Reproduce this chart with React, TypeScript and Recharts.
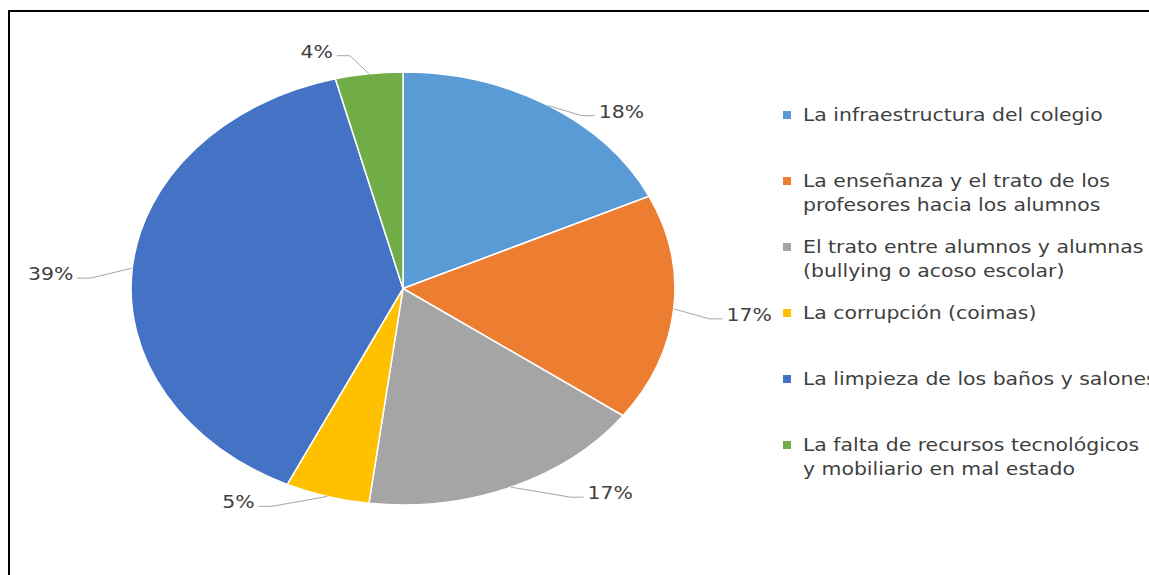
import { Legend, Pie, PieChart } from "recharts"

// survey answers, clockwise from 12 o'clock
const categories = [
  "La infraestructura del colegio",
  "La enseñanza y el trato de los\nprofesores hacia los alumnos",
  "El trato entre alumnos y alumnas\n(bullying o acoso escolar)",
  "La corrupción (coimas)",
  "La limpieza de los baños y salones",
  "La falta de recursos tecnológicos\ny mobiliario en mal estado",
]
const percents = [18, 17, 17, 5, 39, 4]
const colors = ["#5B9BD5", "#ED7D31", "#A5A5A5", "#FFC000", "#4472C4", "#70AD47"]

const data = categories.map((name, i) => ({ name, value: percents[i], fill: colors[i] }))

// the original picture is a round pie stretched sideways (text too)
const STRETCH = 1.256
const TEXT_STRETCH = 1.2
const RAD = Math.PI / 180
const FONT = "'DejaVu Sans', sans-serif"

const pt = (cx: number, cy: number, r: number, angle: number) => ({
  x: cx + r * STRETCH * Math.cos(angle * RAD),
  y: cy - r * Math.sin(angle * RAD),
})

const EllipseSector = (props: any) => {
  const { cx, cy, outerRadius, startAngle, endAngle, fill } = props
  const a = pt(cx, cy, outerRadius, startAngle)
  const b = pt(cx, cy, outerRadius, endAngle)
  const large = Math.abs(startAngle - endAngle) > 180 ? 1 : 0
  const sweep = startAngle > endAngle ? 1 : 0
  const d = `M${cx},${cy} L${a.x},${a.y} A${outerRadius * STRETCH},${outerRadius} 0 ${large} ${sweep} ${b.x},${b.y} Z`
  return <path d={d} fill={fill} stroke="#fff" strokeWidth={1.5} />
}

const renderLabel = (props: any) => {
  const { cx, cy, outerRadius, midAngle, value } = props
  const e = pt(cx, cy, outerRadius, midAngle)
  const sin = Math.sin(midAngle * RAD)
  const right = Math.cos(midAngle * RAD) >= 0
  const top = sin > 0.95
  const below = Math.max(0, -sin)
  const ty = top ? e.y - 22 : e.y + 6
  const tx = top ? e.x - 36 : right ? e.x + 50 + 29 * below : e.x - 59 - 14 * below
  const end = right ? tx - 4 : tx + 4
  const elbow = right ? end - 13 : end + 13
  return (
    <g>
      <polyline
        points={`${e.x},${e.y} ${elbow},${ty + 4} ${end},${ty + 4}`}
        fill="none"
        stroke="#a6a6a6"
        strokeWidth={1}
      />
      <text
        x={0}
        y={0}
        transform={`translate(${tx},${ty}) scale(${TEXT_STRETCH},1)`}
        textAnchor={right ? "start" : "end"}
        dominantBaseline="central"
        fontFamily={FONT}
        fontSize={17}
        fill="#404040"
      >
        {`${value}%`}
      </text>
    </g>
  )
}

// legend in the same order as the slices
const renderLegend = () => (
  <div style={{ fontFamily: FONT, fontSize: 17, color: "#404040", lineHeight: "24px" }}>
    {data.map((d) => (
      <div key={d.name} style={{ display: "flex", height: 66 }}>
        <div style={{ width: 8, height: 8, marginTop: 8, marginRight: 12, background: d.fill, flexShrink: 0 }} />
        <div style={{ whiteSpace: "pre", transform: `scaleX(${TEXT_STRETCH})`, transformOrigin: "left top" }}>{d.name}</div>
      </div>
    ))}
  </div>
)

export default function App() {
  return (
    <div style={{ position: "absolute", left: 0, top: 0, width: 1149, height: 575, overflow: "hidden", background: "#fff" }}>
      <div
        style={{
          position: "absolute",
          left: 8,
          top: 10,
          width: 1200,
          height: 600,
          borderTop: "2px solid #000",
          borderLeft: "2px solid #000",
        }}
      />
      <div style={{ position: "absolute", left: 0, top: 0 }}>
        <PieChart width={1149} height={575} margin={{ top: 0, right: 0, bottom: 0, left: 0 }}>
          <Pie
            data={data}
            dataKey="value"
            nameKey="name"
            cx={403}
            cy={288.5}
            outerRadius={216.5}
            startAngle={90}
            endAngle={-270}
            shape={EllipseSector}
            label={renderLabel}
            labelLine={false}
            isAnimationActive={false}
          />
          <Legend
            layout="vertical"
            align="center"
            verticalAlign="middle"
            content={renderLegend}
            wrapperStyle={{ position: "absolute", left: 783, top: 103, width: 500 }}
          />
        </PieChart>
      </div>
    </div>
  )
}
